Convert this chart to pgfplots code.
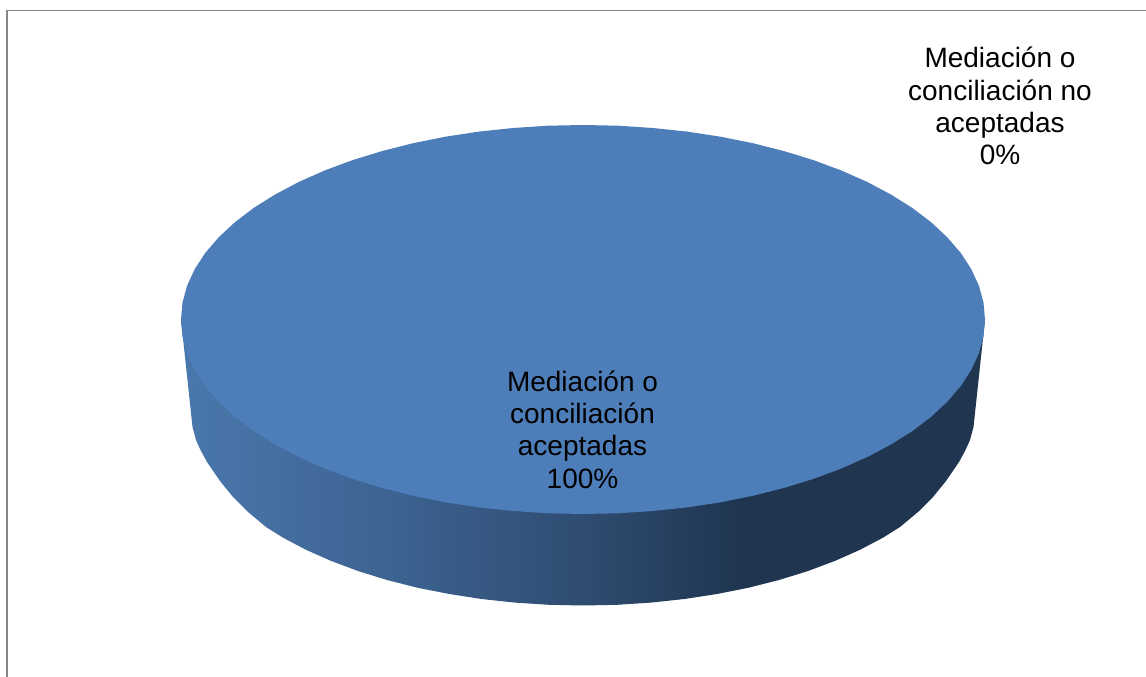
\documentclass[border=0pt]{standalone}
\usepackage{fontspec}
\setmainfont{Liberation Sans}
\usepackage{pgfplots}
\usepackage{pgfplotstable}
\pgfplotsset{compat=1.18}

\definecolor{pietop}{HTML}{4E7EBA}
\definecolor{frameline}{HTML}{868686}
\definecolor{sideA}{HTML}{4A78AD}
\definecolor{sideB}{HTML}{3C6290}
\definecolor{sideC}{HTML}{2F4C71}
\definecolor{sideD}{HTML}{1F3550}
\pgfdeclarehorizontalshading{pieside}{100bp}{color(0bp)=(sideA); color(25bp)=(sideA); color(38.6bp)=(sideB); color(50bp)=(sideC); color(60bp)=(sideD); color(100bp)=(sideD)}

% outlines in image pixels (y runs downwards)
\pgfplotstableread{
x y
985 319.5
983.5 336.5
978.9 353.3
971.3 369.8
960.8 386
947.3 401.7
931.1 416.8
912.3 431.1
890.9 444.5
867.3 457
841.4 468.5
813.6 478.8
784 487.9
752.9 495.8
720.5 502.3
687 507.4
652.8 511
618.1 513.3
583 514
547.9 513.3
513.2 511
479 507.4
445.5 502.3
413.1 495.8
382 487.9
352.4 478.8
324.6 468.5
298.7 457
275.1 444.5
253.7 431.1
234.9 416.8
218.7 401.7
205.2 386
194.7 369.8
187.1 353.3
182.5 336.5
181 319.5
182.5 302.5
187.1 285.7
194.7 269.2
205.2 253
218.7 237.3
234.9 222.2
253.7 207.9
275.1 194.5
298.7 182
324.6 170.5
352.4 160.2
382 151.1
413.1 143.2
445.5 136.7
479 131.6
513.2 128
547.9 125.7
583 125
618.1 125.7
652.8 128
687 131.6
720.5 136.7
752.9 143.2
784 151.1
813.6 160.2
841.4 170.5
867.3 182
890.9 194.5
912.3 207.9
931.1 222.2
947.3 237.3
960.8 253
971.3 269.2
978.9 285.7
983.5 302.5
985 319.5
}\pietop

\pgfplotstableread{
x y
985 319.5
973.5 427
970 440
965.5 450
959 462
946 481
933 497
918 512
900 527
883.3 537.5
860.2 549.7
835 560.9
807.8 571.1
779 580
748.7 587.7
717.1 594
684.5 599
651.1 602.6
617.2 604.8
583 605.5
548.8 604.8
514.9 602.6
481.5 599
449.3 594
417.3 587.7
387 580
358.2 571.1
331 560.9
305.8 549.7
282.7 537.5
266 527
248 512
233 497
220 481
207 462
200.5 450
196 440
192.5 427
181 319.5
985 319.5
}\pieside

\begin{document}
\begin{tikzpicture}
	\useasboundingbox (0,0) rectangle (859.5pt,507.75pt);
	\begin{axis}[
		hide axis,
		scale only axis,
		width=859.5pt,
		height=507.75pt,
		xmin=0, xmax=1146,
		ymin=0, ymax=677,
		y dir=reverse,
		clip=true,
		]
		\addplot[frameline, line width=1.5pt, mark=none] coordinates {(7,10) (7,677)};
		\addplot[frameline, line width=0.9pt, mark=none] coordinates {(6,10.7) (1146,10.7)};
		\addplot[draw=none, shade, shading=pieside, mark=none] table {\pieside};
		\addplot[draw=none, fill=pietop, mark=none] table {\pietop};
		\node[align=center, font=\fontsize{21}{24.2}\selectfont, text=black] at (axis cs:1000,106) {Mediación o\\conciliación no\\aceptadas\\0\%};
		\node[align=center, font=\fontsize{21}{24.2}\selectfont, text=black] at (axis cs:582.5,429.5) {Mediación o\\conciliación\\aceptadas\\100\%};
	\end{axis}
\end{tikzpicture}
\end{document}
